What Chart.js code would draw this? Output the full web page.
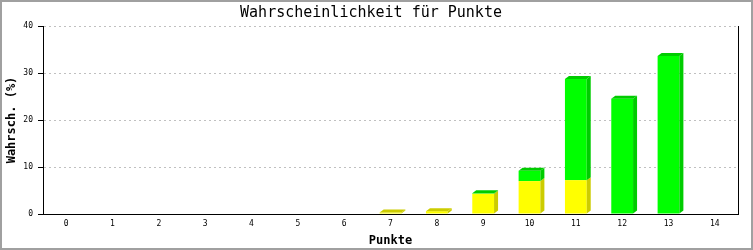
<!DOCTYPE html>
<html>
<head>
<meta charset="utf-8">
<script src="https://cdn.jsdelivr.net/npm/chart.js@4/dist/chart.umd.min.js"></script>
<style>
    body { margin: 0; background: #fff; }
    #wrap { width: 753px; height: 250px; position: relative; }
</style>
</head>
<body>
<div id="wrap"><canvas id="pchart" width="753" height="250"></canvas></div>
<script>
// chart data
const punkte = ["0", "1", "2", "3", "4", "5", "6", "7", "8", "9", "10", "11", "12", "13", "14"];
const gelb = [0, 0, 0, 0, 0, 0, 0, 0.3, 0.6, 4.3, 7.0, 7.2, 0, 0, 0];
const gruen = [0, 0, 0, 0, 0, 0, 0, 0, 0, 0.1, 2.2, 21.5, 24.5, 33.6, 0];
const yTicks = [0, 10, 20, 30, 40];

const mono = "'DejaVu Sans Mono', 'Liberation Mono', monospace";
const sideColors = ["#cccc00", "#00cc00"];

// white background + grey frame + right border of plot
const framePlugin = {
    id: 'frame',
    beforeDraw(chart) {
        const ctx = chart.ctx;
        ctx.save();
        ctx.fillStyle = '#fff';
        ctx.fillRect(0, 0, chart.width, chart.height);
        ctx.restore();
    },
    afterDraw(chart) {
        const ctx = chart.ctx;
        const a = chart.chartArea;
        ctx.save();
        ctx.strokeStyle = '#000';
        ctx.lineWidth = 1;
        ctx.beginPath();
        ctx.moveTo(Math.round(a.right) + 0.5, a.top);
        ctx.lineTo(Math.round(a.right) + 0.5, a.bottom + 0.5);
        ctx.stroke();
        ctx.strokeStyle = '#a0a0a0';
        ctx.lineWidth = 2;
        ctx.strokeRect(1, 1, chart.width - 2, chart.height - 2);
        ctx.restore();
    }
};

// fake 3d: side and top faces of the stacked bars
const bar3d = {
    id: 'bar3d',
    afterDatasetsDraw(chart) {
        const ctx = chart.ctx;
        const dx = 4, dy = 3;
        const metas = [chart.getDatasetMeta(0), chart.getDatasetMeta(1)];
        ctx.save();
        for (let i = 0; i < punkte.length; i++) {
            let topSeg = -1;
            for (let d = 0; d < 2; d++) {
                if (chart.data.datasets[d].data[i] > 0) topSeg = d;
            }
            for (let d = 0; d < 2; d++) {
                const v = chart.data.datasets[d].data[i];
                if (!(v > 0)) continue;
                const el = metas[d].data[i];
                const left = el.x - el.width / 2;
                const right = el.x + el.width / 2;
                const top = el.y;
                const base = el.base;
                ctx.fillStyle = sideColors[d];
                // side
                ctx.beginPath();
                ctx.moveTo(right, top);
                ctx.lineTo(right + dx, top - dy);
                ctx.lineTo(right + dx, base - dy);
                ctx.lineTo(right, base);
                ctx.closePath();
                ctx.fill();
                // top
                if (d === topSeg) {
                    ctx.beginPath();
                    ctx.moveTo(left, top);
                    ctx.lineTo(left + dx, top - dy);
                    ctx.lineTo(right + dx, top - dy);
                    ctx.lineTo(right, top);
                    ctx.closePath();
                    ctx.fill();
                }
            }
        }
        ctx.restore();
    }
};

new Chart(document.getElementById("pchart"), {
    type: 'bar',
    data: {
        labels: punkte,
        datasets: [
            {
                label: "gelb",
                backgroundColor: "#ffff00",
                data: gelb
            },
            {
                label: "gruen",
                backgroundColor: "#00ff00",
                data: gruen
            }
        ]
    },
    options: {
        responsive: false,
        animation: false,
        events: [],
        layout: { padding: { left: 4, right: 15, top: 0, bottom: 2 } },
        datasets: {
            bar: { categoryPercentage: 1, barPercentage: 0.47, borderWidth: 0 }
        },
        plugins: {
            legend: { display: false },
            tooltip: { enabled: false },
            title: {
                display: true,
                text: 'Wahrscheinlichkeit für Punkte',
                color: '#000',
                font: { family: mono, size: 15, weight: 'normal', lineHeight: 1.2 },
                padding: { top: 4, bottom: 4 }
            }
        },
        scales: {
            x: {
                stacked: true,
                grid: { display: false, drawTicks: false, tickLength: 0 },
                border: { display: true, color: '#000', width: 1 },
                ticks: {
                    color: '#000',
                    font: { family: mono, size: 8 },
                    padding: 5,
                    maxRotation: 0,
                    autoSkip: false
                },
                title: {
                    display: true,
                    text: 'Punkte',
                    color: '#000',
                    font: { family: mono, size: 12, weight: 'bold', lineHeight: 1.2 },
                    padding: { top: 0, bottom: 0 }
                },
                afterFit(scale) { scale.height = 34; }
            },
            y: {
                stacked: true,
                min: 0,
                max: 40,
                afterBuildTicks(scale) { scale.ticks = yTicks.map(v => ({ value: v })); },
                grid: {
                    color: '#c0c0c0',
                    tickColor: '#000',
                    tickLength: 5,
                    tickBorderDash: []
                },
                border: { display: true, color: '#000', width: 1, dash: [2, 3] },
                ticks: {
                    color: '#000',
                    font: { family: mono, size: 8 },
                    padding: 5
                },
                title: {
                    display: true,
                    text: 'Wahrsch. (%)',
                    color: '#000',
                    font: { family: mono, size: 12, weight: 'bold', lineHeight: 1.2 },
                    padding: { top: 1, bottom: 0 }
                },
                afterFit(scale) { scale.width = 39; }
            }
        }
    },
    plugins: [framePlugin, bar3d]
});
</script>
</body>
</html>
